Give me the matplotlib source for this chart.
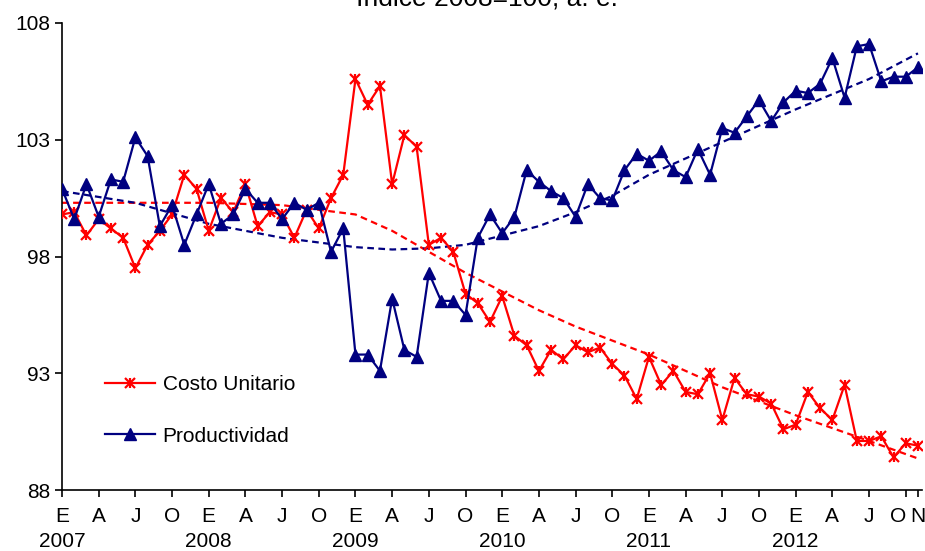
import numpy as np
import matplotlib
matplotlib.use("Agg")
import matplotlib.pyplot as plt
import matplotlib.transforms as mtrans
from matplotlib.legend_handler import HandlerTuple

plt.rcParams['font.family'] = ['Liberation Sans', 'DejaVu Sans']

title = "Índice 2008=100, a. e."
years = ["2007", "2008", "2009", "2010", "2011", "2012"]
month_letters = ["E", "A", "J", "O"]

costo = [99.8, 99.9, 98.9, 99.6, 99.2, 98.8, 97.5, 98.5, 99.1, 99.8, 101.5, 100.9,
         99.1, 100.5, 99.9, 101.1, 99.3, 99.9, 99.8, 98.8, 100.0, 99.2, 100.5, 101.5,
         105.6, 104.5, 105.3, 101.1, 103.2, 102.7, 98.5, 98.8, 98.2, 96.4, 96.0, 95.2,
         96.3, 94.6, 94.2, 93.1, 94.0, 93.6, 94.2, 93.9, 94.1, 93.4, 92.9, 91.9,
         93.7, 92.5, 93.1, 92.2, 92.1, 93.0, 91.0, 92.8, 92.1, 92.0, 91.7, 90.6,
         90.8, 92.2, 91.5, 91.0, 92.5, 90.1, 90.1, 90.3, 89.4, 90.0, 89.9]

productividad = [100.9, 99.6, 101.1, 99.7, 101.3, 101.2, 103.1, 102.3, 99.3, 100.2, 98.5, 99.8,
                 101.1, 99.4, 99.8, 100.9, 100.3, 100.3, 99.6, 100.3, 100.0, 100.3, 98.2, 99.2,
                 93.8, 93.8, 93.1, 96.2, 94.0, 93.7, 97.3, 96.1, 96.1, 95.5, 98.8, 99.8,
                 99.0, 99.7, 101.7, 101.2, 100.8, 100.5, 99.7, 101.1, 100.5, 100.4, 101.7, 102.4,
                 102.1, 102.5, 101.7, 101.4, 102.6, 101.5, 103.5, 103.3, 104.0, 104.7, 103.8, 104.6,
                 105.1, 105.0, 105.4, 106.5, 104.8, 107.0, 107.1, 105.5, 105.7, 105.7, 106.1]

# trend lines at selected months
trend_months = [0, 6, 12, 18, 24, 27, 30, 33, 36, 39, 42, 45, 48, 54, 60, 66, 70]
costo_trend = [100.3, 100.3, 100.3, 100.2, 99.8, 99.1, 98.2, 97.3, 96.5, 95.7, 95.0, 94.4,
               93.8, 92.4, 91.2, 90.1, 89.35]
prod_trend = [100.8, 100.3, 99.4, 98.8, 98.4, 98.3, 98.35, 98.5, 98.9, 99.3, 99.9, 100.6,
              101.5, 102.9, 104.3, 105.6, 106.7]

n = len(costo)
x = np.arange(n)

fig = plt.figure(figsize=(9.25, 5.51), dpi=100)
ax = fig.add_axes([62/925, 1-490/551, (922-62)/925, (490-23)/551])

red = "#FF0000"
navy = "#000080"

# trends
ax.plot(trend_months, costo_trend, color=red, lw=1.6, ls=(0, (3, 2)), zorder=2)
ax.plot(trend_months, prod_trend, color=navy, lw=1.6, ls=(0, (3, 2)), zorder=2)

l1, = ax.plot(x, costo, color=red, lw=1.6, marker='x', ms=7, mew=1.6, zorder=3)
v1, = ax.plot(x, costo, color=red, lw=0, marker='|', ms=7, mew=1.6, zorder=3)
l2, = ax.plot(x, productividad, color=navy, lw=1.6, marker='^', ms=8, zorder=4)

ax.set_xlim(0, 70.33)
ax.set_ylim(88, 108)
ax.set_yticks([88, 93, 98, 103, 108])

ticks = list(range(0, n, 3)) + [70]
labels = []
for t in ticks:
    if t == 70:
        labels.append("N\n ")
        continue
    m = month_letters[(t % 12) // 3]
    if t % 12 == 0:
        labels.append(m + "\n" + years[t // 12])
    else:
        labels.append(m + "\n ")
ax.set_xticks(ticks)
ax.set_xticklabels(labels, fontsize=15, linespacing=1.4)
ax.tick_params(axis='y', labelsize=15, direction='out', length=5, width=1.2)
ax.tick_params(axis='x', direction='out', length=5, width=1.2, pad=7)
xl = ax.get_xticklabels()
for lab in xl:
    lab.set_va('top')
# shift the crowded "O" of the last year slightly left, as in the original
xl[-2].set_transform(xl[-2].get_transform() + mtrans.ScaledTranslation(-8/100, 0, fig.dpi_scale_trans))

for s in ['top', 'right']:
    ax.spines[s].set_visible(False)
ax.spines['left'].set_linewidth(1.2)
ax.spines['bottom'].set_linewidth(1.2)

leg = ax.legend([(l1, v1), l2], ["Costo Unitario", "Productividad"],
                handler_map={tuple: HandlerTuple(ndivide=1, pad=0)},
                loc='upper left', bbox_to_anchor=(35/860, 1-344/467), frameon=False,
                fontsize=15, handlelength=2.4, labelspacing=1.55, handletextpad=0.35,
                borderaxespad=0)

fig.text(487/925, 1-7/551, title, ha='center', va='baseline', fontsize=19)

fig.savefig("out.png", dpi=100)
